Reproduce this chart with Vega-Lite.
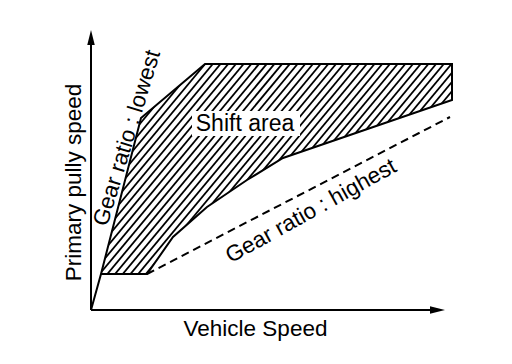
{
  "$schema": "https://vega.github.io/schema/vega-lite/v6.json",
  "width": 361,
  "height": 280,
  "autosize": {"type": "none"},
  "padding": {"left": 91, "top": 30, "right": 60, "bottom": 54},
  "background": "white",
  "config": {"view": {"stroke": null}},
  "datasets": {
    "hatch": [
      {"x": -106, "x2": 127}, {"x": -98.3, "x2": 134.7}, {"x": -90.6, "x2": 142.4}, {"x": -82.9, "x2": 150.1},
      {"x": -75.2, "x2": 157.8}, {"x": -67.5, "x2": 165.5}, {"x": -59.8, "x2": 173.2}, {"x": -52.1, "x2": 180.9},
      {"x": -44.4, "x2": 188.6}, {"x": -36.7, "x2": 196.3}, {"x": -29, "x2": 204}, {"x": -21.3, "x2": 211.7},
      {"x": -13.6, "x2": 219.4}, {"x": -5.9, "x2": 227.1}, {"x": 1.8, "x2": 234.8}, {"x": 9.5, "x2": 242.5},
      {"x": 17.2, "x2": 250.2}, {"x": 24.9, "x2": 257.9}, {"x": 32.6, "x2": 265.6}, {"x": 40.3, "x2": 273.3},
      {"x": 48, "x2": 281}, {"x": 55.7, "x2": 288.7}, {"x": 63.4, "x2": 296.4}, {"x": 71.1, "x2": 304.1},
      {"x": 78.8, "x2": 311.8}, {"x": 86.5, "x2": 319.5}, {"x": 94.2, "x2": 327.2}, {"x": 101.9, "x2": 334.9},
      {"x": 109.6, "x2": 342.6}, {"x": 117.3, "x2": 350.3}, {"x": 125, "x2": 358}, {"x": 132.7, "x2": 365.7},
      {"x": 140.4, "x2": 373.4}, {"x": 148.1, "x2": 381.1}, {"x": 155.8, "x2": 388.8}, {"x": 163.5, "x2": 396.5},
      {"x": 171.2, "x2": 404.2}, {"x": 178.9, "x2": 411.9}, {"x": 186.6, "x2": 419.6}
    ],
    "upperMask": [
      {"x": 0, "y": 30}, {"x": 10, "y": 36}, {"x": 50, "y": 192}, {"x": 114, "y": 246}, {"x": 361, "y": 246}
    ],
    "lowerMask": [
      {"x": 0, "y": 36}, {"x": 56, "y": 36}, {"x": 82, "y": 73}, {"x": 116, "y": 103},
      {"x": 156, "y": 130}, {"x": 192, "y": 152}, {"x": 361, "y": 210}
    ],
    "outline": [
      {"i": 0, "x": 0, "y": 0}, {"i": 1, "x": 10, "y": 36}, {"i": 2, "x": 50, "y": 192},
      {"i": 3, "x": 114, "y": 246}, {"i": 4, "x": 361, "y": 246}, {"i": 5, "x": 361, "y": 210},
      {"i": 6, "x": 192, "y": 152}, {"i": 7, "x": 156, "y": 130}, {"i": 8, "x": 116, "y": 103},
      {"i": 9, "x": 82, "y": 73}, {"i": 10, "x": 56, "y": 36}, {"i": 11, "x": 10, "y": 36}
    ],
    "highest": [{"x": 56, "y": 36}, {"x": 359, "y": 193}],
    "axes": [{"x": 0, "y": 0, "x2": 347, "y2": 0}, {"x": 0, "y": 0, "x2": 0, "y2": 273}]
  },
  "layer": [
    {
      "data": {"name": "hatch"},
      "mark": {"type": "rule", "stroke": "black", "strokeWidth": 1.8, "clip": true},
      "encoding": {
        "x": {"field": "x", "type": "quantitative", "scale": {"domain": [0, 361], "nice": false, "zero": false}, "axis": {"domain": false, "ticks": false, "labels": false, "grid": false, "title": "Vehicle Speed", "titleFont": "Liberation Sans", "titleFontSize": 22.5, "titleFontWeight": "normal", "titleColor": "black", "titleX": 164, "titleY": 25, "titleAlign": "center", "titleBaseline": "alphabetic"}},
        "x2": {"field": "x2"},
        "y": {"datum": 0, "type": "quantitative", "scale": {"domain": [0, 280], "nice": false, "zero": false}, "axis": {"domain": false, "ticks": false, "labels": false, "grid": false, "title": "Primary pully speed", "titleFont": "Liberation Sans", "titleFontSize": 22.5, "titleFontWeight": "normal", "titleColor": "black", "titleX": -11, "titleY": 152, "titleAlign": "center", "titleBaseline": "alphabetic", "titleAngle": -90}},
        "y2": {"datum": 280}
      }
    },
    {
      "data": {"name": "upperMask"},
      "mark": {"type": "area", "fill": "white", "stroke": "white", "strokeWidth": 0.5},
      "encoding": {"x": {"field": "x", "type": "quantitative"}, "y": {"field": "y", "type": "quantitative"}, "y2": {"datum": 280}}
    },
    {
      "data": {"name": "lowerMask"},
      "mark": {"type": "area", "fill": "white", "stroke": "white", "strokeWidth": 0.5},
      "encoding": {"x": {"field": "x", "type": "quantitative"}, "y": {"field": "y", "type": "quantitative"}, "y2": {"datum": 0}}
    },
    {
      "data": {"values": [{"label": "Shift area", "x": 154, "y": 186, "x0": 101, "x1": 209, "y0": 174, "y1": 199}]},
      "layer": [
        {"mark": {"type": "rect", "fill": "white"}, "encoding": {"x": {"field": "x0", "type": "quantitative"}, "x2": {"field": "x1"}, "y": {"field": "y0", "type": "quantitative"}, "y2": {"field": "y1"}}},
        {"mark": {"type": "text", "font": "Liberation Sans", "fontSize": 23, "align": "center", "baseline": "middle", "color": "black"}, "encoding": {"x": {"field": "x", "type": "quantitative"}, "y": {"field": "y", "type": "quantitative"}, "text": {"field": "label"}}}
      ]
    },
    {
      "data": {"name": "outline"},
      "mark": {"type": "line", "stroke": "black", "strokeWidth": 2, "strokeJoin": "miter"},
      "encoding": {"x": {"field": "x", "type": "quantitative"}, "y": {"field": "y", "type": "quantitative"}, "order": {"field": "i"}}
    },
    {
      "data": {"name": "highest"},
      "mark": {"type": "line", "stroke": "black", "strokeWidth": 2, "strokeDash": [8, 5]},
      "encoding": {"x": {"field": "x", "type": "quantitative"}, "y": {"field": "y", "type": "quantitative"}}
    },
    {
      "data": {"name": "axes"},
      "mark": {"type": "rule", "stroke": "black", "strokeWidth": 2},
      "encoding": {"x": {"field": "x", "type": "quantitative"}, "y": {"field": "y", "type": "quantitative"}, "x2": {"field": "x2"}, "y2": {"field": "y2"}}
    },
    {
      "data": {"values": [{"x": 346.5, "y": 0}]},
      "mark": {"type": "point", "shape": "M1,0L-1,-0.5L-1,0.5Z", "size": 225, "filled": true, "color": "black", "opacity": 1},
      "encoding": {"x": {"field": "x", "type": "quantitative"}, "y": {"field": "y", "type": "quantitative"}}
    },
    {
      "data": {"values": [{"x": 0, "y": 272.5}]},
      "mark": {"type": "point", "shape": "M0,-1L-0.5,1L0.5,1Z", "size": 225, "filled": true, "color": "black", "opacity": 1},
      "encoding": {"x": {"field": "x", "type": "quantitative"}, "y": {"field": "y", "type": "quantitative"}}
    },
    {
      "data": {"values": [{"label": "Gear ratio : lowest", "x": 36, "y": 172}]},
      "mark": {"type": "text", "font": "Liberation Sans", "fontSize": 22.5, "angle": 287, "align": "center", "baseline": "middle", "color": "black"},
      "encoding": {"x": {"field": "x", "type": "quantitative"}, "y": {"field": "y", "type": "quantitative"}, "text": {"field": "label"}}
    },
    {
      "data": {"values": [{"label": "Gear ratio : highest", "x": 220, "y": 99}]},
      "mark": {"type": "text", "font": "Liberation Sans", "fontSize": 22.5, "angle": 331, "align": "center", "baseline": "middle", "color": "black"},
      "encoding": {"x": {"field": "x", "type": "quantitative"}, "y": {"field": "y", "type": "quantitative"}, "text": {"field": "label"}}
    }
  ]
}
